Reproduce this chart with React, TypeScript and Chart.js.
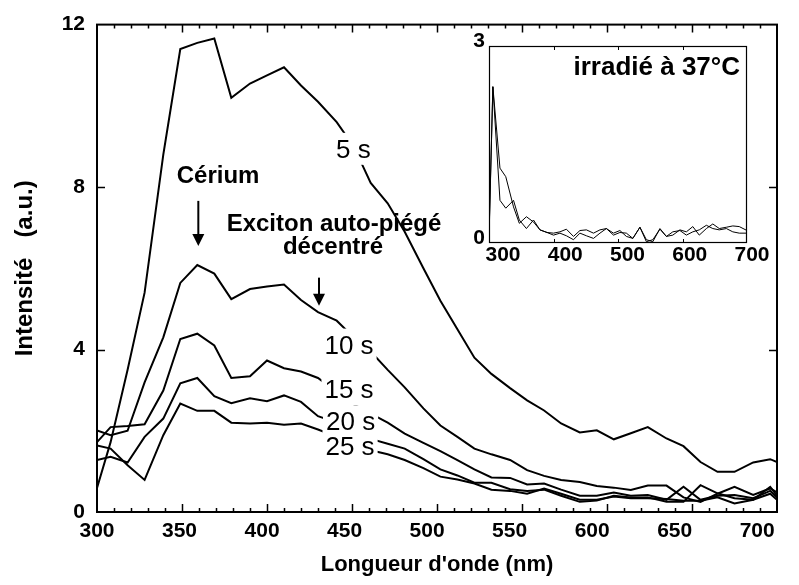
import React, { useEffect, useRef } from "react";
import { Chart, registerables } from "chart.js";

Chart.register(...registerables);

const FONT = "'Liberation Sans', Arial, Helvetica, sans-serif";

// Main chart: wavelength (nm) grid of the recorded points
const WAVELENGTHS = [300, 308, 318, 328, 339, 349, 359, 369, 379, 390, 400, 410, 420, 430, 441, 451, 461, 471, 481, 492, 502, 512, 522, 532, 543, 553, 563, 573, 584, 594, 604, 614, 624, 635, 645, 655, 665, 675, 686, 696, 700];

const INTENSITY_5S = [0.59, 1.72, 3.5, 5.4, 8.8, 11.4, 11.55, 11.66, 10.2, 10.55, 10.75, 10.95, 10.5, 10.1, 9.6, 9.0, 8.1, 7.6, 6.9, 6.0, 5.2, 4.5, 3.8, 3.4, 3.05, 2.75, 2.5, 2.18, 1.96, 2.01, 1.79, 1.94, 2.09, 1.81, 1.62, 1.23, 0.99, 0.99, 1.22, 1.30, 1.23];
const INTENSITY_10S = [2.01, 1.89, 2.0, 3.19, 4.3, 5.64, 6.08, 5.87, 5.24, 5.49, 5.55, 5.60, 5.22, 4.92, 4.71, 4.3, 3.95, 3.5, 3.07, 2.55, 2.13, 1.85, 1.56, 1.42, 1.28, 1.03, 0.89, 0.79, 0.74, 0.64, 0.60, 0.54, 0.65, 0.65, 0.36, 0.25, 0.45, 0.62, 0.42, 0.58, 0.48];
const INTENSITY_15S = [1.72, 2.09, 2.12, 2.16, 2.99, 4.26, 4.39, 4.10, 3.30, 3.34, 3.73, 3.54, 3.46, 3.30, 2.95, 2.65, 2.42, 2.20, 1.93, 1.70, 1.50, 1.28, 1.05, 0.85, 0.84, 0.68, 0.70, 0.55, 0.40, 0.40, 0.48, 0.40, 0.42, 0.30, 0.62, 0.30, 0.40, 0.42, 0.34, 0.52, 0.36];
const INTENSITY_20S = [1.28, 1.36, 1.22, 1.85, 2.30, 3.17, 3.30, 2.85, 2.68, 2.80, 2.73, 2.87, 2.71, 2.36, 2.20, 2.0, 1.80, 1.68, 1.56, 1.30, 1.05, 0.90, 0.72, 0.72, 0.56, 0.52, 0.55, 0.40, 0.25, 0.28, 0.40, 0.36, 0.36, 0.25, 0.25, 0.66, 0.46, 0.34, 0.30, 0.45, 0.30];
const INTENSITY_25S = [1.64, 1.56, 1.15, 0.79, 1.89, 2.67, 2.49, 2.49, 2.20, 2.18, 2.20, 2.15, 2.18, 2.03, 1.85, 1.68, 1.52, 1.42, 1.28, 1.08, 0.87, 0.80, 0.70, 0.55, 0.52, 0.45, 0.58, 0.45, 0.30, 0.30, 0.38, 0.34, 0.34, 0.32, 0.28, 0.28, 0.36, 0.21, 0.30, 0.62, 0.40];

const SERIES_NAMES = ["5 s", "10 s", "15 s", "20 s", "25 s"];
const SERIES_VALUES = [INTENSITY_5S, INTENSITY_10S, INTENSITY_15S, INTENSITY_20S, INTENSITY_25S];

// Tick labels
const X_TICK_LABELS = [300, 350, 400, 450, 500, 550, 600, 650, 700];
const Y_TICK_LABELS = [0, 4, 8, 12];
// the scanned figure's labels are slightly compressed vs. its tick marks
const X_LABEL_MAX = 712;

// Inset (irradiated at 37 °C)
const INSET_WAVELENGTHS = [300, 306, 317, 326, 338, 347, 358, 369, 379, 390, 400, 410, 420, 431, 441, 451, 462, 472, 482, 493, 503, 513, 523, 534, 544, 554, 565, 575, 585, 596, 606, 616, 626, 637, 647, 657, 668, 678, 688, 700];
const INSET_A = [0.10, 2.38, 1.14, 1.01, 0.55, 0.30, 0.40, 0.32, 0.20, 0.16, 0.15, 0.17, 0.21, 0.10, 0.19, 0.20, 0.15, 0.20, 0.22, 0.15, 0.19, 0.10, 0.07, 0.24, 0.05, 0.02, 0.22, 0.10, 0.12, 0.20, 0.17, 0.25, 0.12, 0.22, 0.29, 0.22, 0.24, 0.26, 0.25, 0.19];
const INSET_B = [0.05, 2.38, 0.65, 0.53, 0.65, 0.35, 0.22, 0.35, 0.20, 0.16, 0.12, 0.15, 0.11, 0.05, 0.15, 0.11, 0.07, 0.15, 0.22, 0.12, 0.16, 0.15, 0.07, 0.24, 0.02, 0.05, 0.21, 0.10, 0.17, 0.19, 0.12, 0.17, 0.20, 0.27, 0.22, 0.20, 0.22, 0.17, 0.15, 0.15];
const INSET_X_TICK_LABELS = [300, 400, 500, 600, 700];
const INSET_Y_TICK_LABELS = [0, 3];
const INSET_LABEL_MAX = 714.5;

// Annotation anchors in data coordinates
const CURVE_LABELS = [
  { text: "5 s", x: 440.6, y: 8.72 },
  { text: "10 s", x: 433.8, y: 3.9 },
  { text: "15 s", x: 433.8, y: 2.8 },
  { text: "20 s", x: 434.7, y: 2.01 },
  { text: "25 s", x: 434.4, y: 1.4 },
];
const NOTES = [
  { text: "Cérium", x: 371.2, y: 8.11 },
  { text: "Exciton auto-piégé", x: 439.4, y: 6.92 },
  { text: "décentré", x: 438.8, y: 6.36 },
];
const ARROWS = [
  { x: 359.6, y1: 7.66, y2: 6.55 },
  { x: 430.6, y1: 5.77, y2: 5.08 },
];

function drawArrow(ctx: CanvasRenderingContext2D, px: number, py1: number, py2: number) {
  const head = 12;
  ctx.beginPath();
  ctx.lineWidth = 2;
  ctx.moveTo(px, py1);
  ctx.lineTo(px, py2 - head + 1);
  ctx.stroke();
  ctx.beginPath();
  ctx.moveTo(px - 6, py2 - head);
  ctx.lineTo(px + 6, py2 - head);
  ctx.lineTo(px, py2);
  ctx.closePath();
  ctx.fill();
}

const mainDecor = {
  id: "mainDecor",
  afterDatasetsDraw(chart: any) {
    const { ctx, chartArea: ca, scales } = chart;
    const x = scales.x;
    const y = scales.y;
    ctx.save();
    ctx.strokeStyle = "#000";
    ctx.fillStyle = "#000";
    ctx.lineWidth = 1.5;
    for (let v = 310; v < 700; v += 10) {
      const px = Math.round(x.getPixelForValue(v)) + 0.5;
      const len = v % 50 === 0 ? 8 : 4;
      ctx.beginPath();
      ctx.moveTo(px, ca.bottom);
      ctx.lineTo(px, ca.bottom - len);
      ctx.moveTo(px, ca.top);
      ctx.lineTo(px, ca.top + len);
      ctx.stroke();
    }
    for (const v of [4, 8]) {
      const py = Math.round(y.getPixelForValue(v)) + 0.5;
      ctx.beginPath();
      ctx.moveTo(ca.left, py);
      ctx.lineTo(ca.left + 8, py);
      ctx.moveTo(ca.right, py);
      ctx.lineTo(ca.right - 8, py);
      ctx.stroke();
    }
    ctx.lineWidth = 2;
    ctx.strokeRect(ca.left, ca.top, ca.right - ca.left, ca.bottom - ca.top);

    ctx.font = `26px ${FONT}`;
    ctx.textAlign = "left";
    ctx.textBaseline = "alphabetic";
    for (const l of CURVE_LABELS) {
      const px = x.getPixelForValue(l.x);
      const py = y.getPixelForValue(l.y);
      const w = ctx.measureText(l.text).width;
      ctx.fillStyle = "#fff";
      ctx.fillRect(px - 3, py - 25, w + 6, 32);
      ctx.fillStyle = "#000";
      ctx.fillText(l.text, px, py);
    }
    ctx.font = `bold 24px ${FONT}`;
    ctx.textAlign = "center";
    for (const n of NOTES) {
      ctx.fillText(n.text, x.getPixelForValue(n.x), y.getPixelForValue(n.y));
    }
    for (const a of ARROWS) {
      drawArrow(ctx, x.getPixelForValue(a.x), y.getPixelForValue(a.y1), y.getPixelForValue(a.y2));
    }
    ctx.restore();
  },
};

const insetDecor = {
  id: "insetDecor",
  afterDatasetsDraw(chart: any) {
    const { ctx, chartArea: ca, scales } = chart;
    const x = scales.x;
    ctx.save();
    ctx.strokeStyle = "#000";
    ctx.fillStyle = "#000";
    ctx.lineWidth = 1;
    for (let v = 400; v < 700; v += 100) {
      const px = Math.round(x.getPixelForValue(v)) + 0.5;
      ctx.beginPath();
      ctx.moveTo(px, ca.bottom);
      ctx.lineTo(px, ca.bottom - 4);
      ctx.moveTo(px, ca.top);
      ctx.lineTo(px, ca.top + 4);
      ctx.stroke();
    }
    ctx.lineWidth = 1.2;
    ctx.strokeRect(ca.left + 0.5, ca.top + 0.5, ca.right - ca.left - 1, ca.bottom - ca.top - 1);
    ctx.font = `bold 26px ${FONT}`;
    ctx.textAlign = "right";
    ctx.textBaseline = "alphabetic";
    ctx.fillText("irradié à 37°C", ca.right - 7, ca.top + 29);
    ctx.restore();
  },
};

const fixedTicks = (values: number[]) => (s: any) => {
  s.ticks = values.map((v) => ({ value: v }));
};

export default function App() {
  const mainRef = useRef<HTMLCanvasElement>(null);
  const insetRef = useRef<HTMLCanvasElement>(null);

  useEffect(() => {
    const tickFont = { family: FONT, size: 21, weight: "bold" as const };
    const main = new Chart(mainRef.current!, {
      type: "line",
      data: {
        datasets: SERIES_NAMES.map((name, si) => ({
          label: name,
          xAxisID: "x",
          data: WAVELENGTHS.map((w, i) => ({ x: w, y: SERIES_VALUES[si][i] })),
          borderColor: "#000",
          borderWidth: 2,
          pointRadius: 0,
          tension: 0,
          fill: false,
        })),
      },
      options: {
        animation: false,
        responsive: true,
        maintainAspectRatio: false,
        events: [],
        layout: { padding: { left: 0, right: 22, top: 23, bottom: 0 } },
        plugins: { legend: { display: false }, tooltip: { enabled: false } },
        scales: {
          x: {
            type: "linear",
            min: 300,
            max: 700,
            display: false,
          },
          xLabels: {
            type: "linear",
            position: "bottom",
            min: 300,
            max: X_LABEL_MAX,
            grid: { display: false, drawTicks: false },
            border: { display: false },
            ticks: { color: "#000", font: tickFont, padding: 7, maxRotation: 0, autoSkip: false },
            afterBuildTicks: fixedTicks(X_TICK_LABELS),
            title: {
              display: true,
              text: "Longueur d'onde (nm)",
              color: "#000",
              font: { family: FONT, size: 22, weight: "bold" },
              padding: { top: 0, bottom: 7 },
            },
            afterFit: (s: any) => {
              s.height = 73;
            },
          },
          y: {
            type: "linear",
            min: 0,
            max: 12,
            grid: { display: false, drawTicks: false },
            border: { display: false },
            ticks: { color: "#000", font: tickFont, padding: 12 },
            afterBuildTicks: fixedTicks(Y_TICK_LABELS),
            title: {
              display: true,
              text: "Intensité   (a.u.)",
              color: "#000",
              font: { family: FONT, size: 24, weight: "bold" },
              padding: { top: 11, bottom: 0 },
            },
            afterFit: (s: any) => {
              s.width = 97;
            },
          },
        },
      },
      plugins: [mainDecor],
    });

    const inset = new Chart(insetRef.current!, {
      type: "line",
      data: {
        datasets: [INSET_A, INSET_B].map((vals, k) => ({
          label: `inset ${k}`,
          xAxisID: "x",
          data: INSET_WAVELENGTHS.map((w, i) => ({ x: w, y: vals[i] })),
          borderColor: "#000",
          borderWidth: 1,
          pointRadius: 0,
          tension: 0,
          fill: false,
        })),
      },
      options: {
        animation: false,
        responsive: true,
        maintainAspectRatio: false,
        events: [],
        layout: { padding: { left: 0, right: 33, top: 26, bottom: 0 } },
        plugins: { legend: { display: false }, tooltip: { enabled: false } },
        scales: {
          x: {
            type: "linear",
            min: 300,
            max: 700,
            display: false,
          },
          xLabels: {
            type: "linear",
            position: "bottom",
            min: 300,
            max: INSET_LABEL_MAX,
            grid: { display: false, drawTicks: false },
            border: { display: false },
            ticks: { color: "#000", font: { family: FONT, size: 21, weight: "bold" }, padding: 0, labelOffset: 14, maxRotation: 0, autoSkip: false },
            afterBuildTicks: fixedTicks(INSET_X_TICK_LABELS),
            afterFit: (s: any) => {
              s.height = 27;
            },
          },
          y: {
            type: "linear",
            min: 0,
            max: 3,
            grid: { display: false, drawTicks: false },
            border: { display: false },
            ticks: { color: "#000", font: { family: FONT, size: 21, weight: "bold" }, padding: 4, labelOffset: -5 },
            afterBuildTicks: fixedTicks(INSET_Y_TICK_LABELS),
            afterFit: (s: any) => {
              s.width = 49;
            },
          },
        },
      },
      plugins: [insetDecor],
    });

    return () => {
      main.destroy();
      inset.destroy();
    };
  }, []);

  return (
    <div style={{ position: "absolute", left: 0, top: 0, width: 799, height: 585, background: "#fff" }}>
      <div style={{ position: "absolute", left: 0, top: 0, width: 799, height: 585 }}>
        <canvas ref={mainRef} />
      </div>
      <div style={{ position: "absolute", left: 440, top: 20, width: 340, height: 250 }}>
        <canvas ref={insetRef} />
      </div>
    </div>
  );
}
